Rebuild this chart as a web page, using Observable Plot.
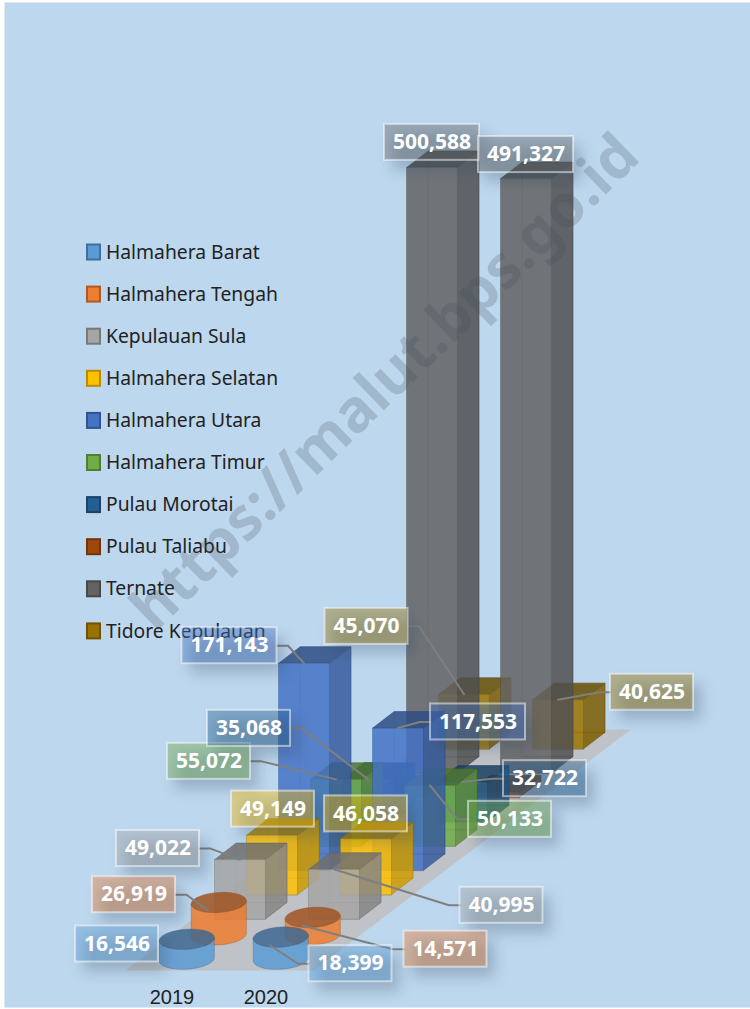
<!DOCTYPE html>
<html>
<head>
<meta charset="utf-8">
<script src="https://cdn.jsdelivr.net/npm/d3@7"></script>
<script src="https://cdn.jsdelivr.net/npm/@observablehq/plot@0.6"></script>
<style>
html,body{margin:0;padding:0;background:#fff}
svg{display:block}
</style>
</head>
<body>
<div id="chart"></div>
<script>
// ---- data ----
const years = ["2019", "2020"];
const regions = ["Halmahera Barat","Halmahera Tengah","Kepulauan Sula","Halmahera Selatan","Halmahera Utara","Halmahera Timur","Pulau Morotai","Pulau Taliabu","Ternate","Tidore Kepulauan"];
const values2019 = [16546,26919,49022,49149,171143,55072,35068,4500,500588,45070];
const values2020 = [18399,14571,40995,46058,117553,50133,32722,4500,491327,40625];
const labelled = [true,true,true,true,true,true,true,false,true,true];
const colors = ["#5B9BD5","#ED7D31","#A5A5A5","#FFC000","#4472C4","#70AD47","#255E91","#9E480E","#636363","#997300"];
const cylinderRegions = ["Halmahera Barat","Halmahera Tengah"];
const watermark = "https://malut.bps.go.id";
const seriesValues = [values2019, values2020];

// ---- oblique 3-D projection onto the plot's scales ----
const K = 0.00121, W = 750, H = 1009, BASE = 967;     // pixels per person, canvas, baseline
const X0 = 150, YEAR_DX = 94, S_DX = 32, S_DY = 24.3; // floor steps
const BAR_W = 51, DEPTH_X = 21.5, DEPTH_Y = 16.5;
const CYL_RX = 27.6, CYL_RY = 10, CYL_TILT = 1.6;
const dataY = px => (BASE - px) / K;                  // screen-height helper for layout
const pt = (yi, si, u, w, v) => ({
  x: X0 + YEAR_DX * yi + S_DX * si + u * BAR_W + w * DEPTH_X,
  y: v + (S_DY * si + w * DEPTH_Y) / K
});

// ---- faces ----
const faces = [];
let fid = 0;
function face(points, fill, stroke) {
  const id = fid++;
  points.forEach(p => faces.push({...p, id, fill, stroke}));
}
regions.map((r, si) => si).reverse().forEach(si => {
  const c = colors[si];
  const side = d3.color(c).darker(0.6).formatHex();
  const top = d3.color(c).darker(1.1).formatHex();
  const edge = d3.color(c).darker(1.5).formatHex();
  years.forEach((yr, yi) => {
    const v = seriesValues[yi][si];
    if (cylinderRegions.includes(regions[si])) {
      const at = (t, val) => {
        const p = pt(yi, si, 0.5, 0.5, val);
        return {x: p.x + CYL_RX * Math.cos(t), y: p.y + (CYL_RY * Math.sin(t) + CYL_TILT * Math.cos(t)) / K};
      };
      const lower = d3.range(0, 25).map(i => Math.PI + Math.PI * i / 24);
      face([...lower.map(t => at(t, 0)), ...lower.slice().reverse().map(t => at(t, v))], c, edge);
      face(d3.range(0, 48).map(i => at(i * Math.PI / 24, v)), top, edge);
    } else {
      // hidden back edges, seen through the translucent bar
      face([pt(yi,si,0,1,0), pt(yi,si,0,1,v), pt(yi,si,1,1,v), pt(yi,si,1,1,0)], "none", edge);
      face([pt(yi,si,0,0,0), pt(yi,si,0,1,0), pt(yi,si,1,1,0), pt(yi,si,1,0,0)], "none", edge);
      face([pt(yi,si,1,0,0), pt(yi,si,1,1,0), pt(yi,si,1,1,v), pt(yi,si,1,0,v)], side, edge);
      face([pt(yi,si,0,0,v), pt(yi,si,0,1,v), pt(yi,si,1,1,v), pt(yi,si,1,0,v)], top, edge);
      face([pt(yi,si,0,0,0), pt(yi,si,0,0,v), pt(yi,si,1,0,v), pt(yi,si,1,0,0)], c, edge);
    }
  });
});

const floor = [pt(-0.225,-0.12,0,0,0), pt(1.777,-0.12,0,0,0), pt(1.777,9.79,0,0,0), pt(-0.225,9.79,0,0,0)];

// ---- data label layout: box-centre offset (px) from the bar's top-front centre, leader side ----
const layout = [
  [[-59,-3.5,""],[-74,-15.9,"r"],[-82,-11,"r"],[1,-26,""],[-74.5,-17.5,"r"],[-127,-18,"r"],[-119,-50.9,"r"],null,[0,-25,""],[-97.5,-67.9,"r"]],
  [[80.5,18.5,"l"],[143.5,23.6,"l"],[167.5,36,"l"],[0,-25,""],[80,-6.1,"l"],[80,34,"l"],[83,-3.4,"l"],null,[0,-24,""],[94,-7.4,"l"]]
];
const fmt = d3.format(",");
const boxes = [], leaders = [];
years.forEach((yr, yi) => regions.forEach((r, si) => {
  if (!labelled[si]) return;
  const v = seriesValues[yi][si];
  const a = pt(yi, si, 0.5, 0, v);
  const [ox, oy, sideFlag] = layout[yi][si];
  const txt = fmt(v), bw = txt.length > 6 ? 95 : 83, bh = 36;
  const cx = a.x + ox, cy = a.y - oy / K;
  boxes.push({txt, cx, cy, x1: cx - bw/2, x2: cx + bw/2, y1: cy - bh/2/K, y2: cy + bh/2/K, fill: colors[si]});
  if (sideFlag) {
    const dir = sideFlag === "r" ? 1 : -1;
    const ex = cx + dir * bw/2;
    [{x: ex, y: cy}, {x: ex + dir*11, y: cy}, {x: a.x, y: a.y}].forEach(p => leaders.push({...p, id: yi + "-" + si}));
  }
}));

const legendRows = regions.map((r, i) => ({r, i, c: colors[i], y: dataY(252 + 42.1 * i)}));
const SW = 7.5;

const font = '"Noto Sans", "Open Sans", sans-serif';
const chart = Plot.plot({
  width: W, height: H,
  margin: 0,
  x: {domain: [0, W], range: [0, W], axis: null},
  y: {domain: [dataY(H), dataY(0)], range: [H, 0], axis: null},
  color: {type: "identity"},
  style: {background: "transparent", fontFamily: font},
  marks: [
    Plot.frame({fill: "#BDD7EE", stroke: "none", insetLeft: 4, insetTop: 2, insetBottom: 2}),
    Plot.line(floor, {x: "x", y: "y", curve: "linear-closed", fill: "#BFC3C8", stroke: "none"}),
    Plot.line(faces, {x: "x", y: "y", z: "id", curve: "linear-closed", fill: "fill", stroke: "stroke", fillOpacity: 0.85, strokeOpacity: 0.3, strokeWidth: 1}),
    // legend
    Plot.rect(legendRows, {x1: 87, x2: 100, y1: d => d.y - SW/K, y2: d => d.y + SW/K, fill: "c", stroke: d => d3.color(d.c).darker(0.9).formatHex(), strokeWidth: 2}),
    Plot.text(legendRows, {x: 105.5, y: "y", text: "r", textAnchor: "start", fontSize: 19.3, fill: "#222"}),
    // category labels
    Plot.text(years, {x: (d, i) => pt(i, 0, 0.5, 0, 0).x - 4, y: dataY(997), text: d => d, fontSize: 20, fontFamily: '"Liberation Sans", sans-serif', fill: "#222"}),
    // leaders
    Plot.line(leaders, {x: "x", y: "y", z: "id", stroke: "#7F7F7F", strokeWidth: 2}),
    // label shadows
    Plot.rect(boxes, {x1: d => d.x1 + 8, x2: d => d.x2 + 8, y1: d => d.y1 - 10/K, y2: d => d.y2 - 10/K, fill: "#33475c", fillOpacity: 0.28, imageFilter: "blur(7px)"}),
    // label boxes
    Plot.rect(boxes, {x1: "x1", x2: "x2", y1: "y1", y2: "y2", fill: "fill", fillOpacity: 0.4, stroke: "#fff", strokeOpacity: 0.5, strokeWidth: 2}),
    Plot.text(boxes, {x: "cx", y: "cy", text: "txt", fontSize: 21, fontWeight: 700, fill: "#fff"}),
    // watermark
    Plot.text([watermark], {x: 385, y: dataY(382), text: d => d, rotate: -44.2, fontSize: 59, fontWeight: 700, fill: "#3d4a57", fillOpacity: 0.22})
  ]
});
document.getElementById("chart").appendChild(chart);
</script>
</body>
</html>
